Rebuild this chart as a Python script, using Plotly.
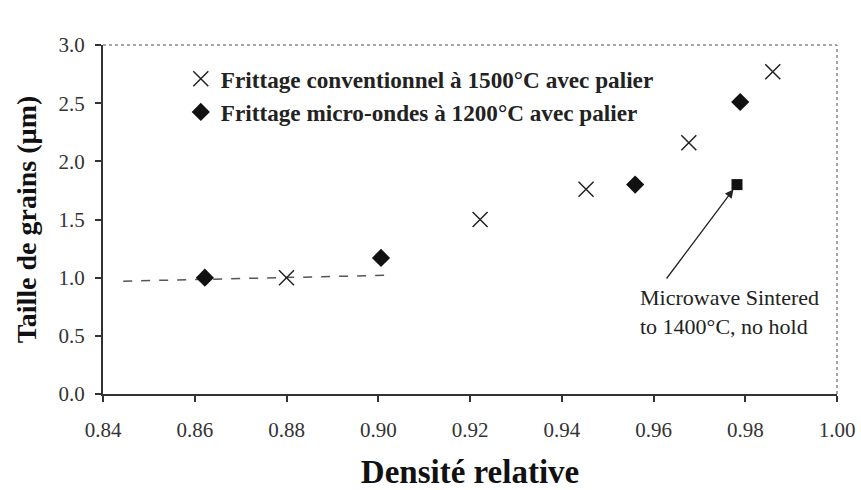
import plotly.graph_objects as go

conv_x = [0.88, 0.9222, 0.9453, 0.9677, 0.986]
conv_y = [1.0, 1.50, 1.76, 2.16, 2.77]
mw_x = [0.8622, 0.9006, 0.956, 0.9789]
mw_y = [1.0, 1.17, 1.80, 2.51]
nohold_x = [0.9782]
nohold_y = [1.80]
trend_x = [0.8444, 0.9015]
trend_y = [0.97, 1.02]

conv_name = "Frittage conventionnel à 1500°C avec palier"
mw_name = "Frittage micro-ondes à 1200°C avec palier"
note_text = "Microwave Sintered<br>to 1400°C, no hold"

serif = "Liberation Serif, Times New Roman, serif"

fig = go.Figure()
fig.add_trace(go.Scatter(x=trend_x, y=trend_y, mode="lines",
                         line=dict(color="#555", width=1.5, dash="dash"),
                         showlegend=False, hoverinfo="skip"))
fig.add_trace(go.Scatter(x=conv_x, y=conv_y, mode="markers", name=conv_name,
                         marker=dict(symbol="x-thin-open", size=15, color="#222",
                                     line=dict(color="#222", width=1.5))))
fig.add_trace(go.Scatter(x=mw_x, y=mw_y, mode="markers", name=mw_name,
                         marker=dict(symbol="diamond", size=14, color="#111")))
fig.add_trace(go.Scatter(x=nohold_x, y=nohold_y, mode="markers", showlegend=False,
                         marker=dict(symbol="square", size=11, color="#111")))

fig.add_annotation(x=nohold_x[0], y=nohold_y[0], ax=0.9626, ay=0.98,
                   axref="x", ayref="y", xref="x", yref="y",
                   text="", showarrow=True, arrowhead=2, arrowsize=1.3,
                   arrowwidth=1.3, arrowcolor="#222", standoff=6)
fig.add_annotation(x=0.9567, y=0.95, xref="x", yref="y", xanchor="left", yanchor="top",
                   text=note_text, showarrow=False, align="left",
                   font=dict(family=serif, size=22, color="#222"))

fig.update_layout(
    width=861, height=490,
    margin=dict(l=103, r=24, t=45, b=96),
    paper_bgcolor="white", plot_bgcolor="white",
    font=dict(family=serif, color="#222"),
    legend=dict(x=0.106, y=0.965, xanchor="left", yanchor="top",
                bgcolor="rgba(0,0,0,0)", font=dict(family=serif, size=23.2, color="#222"),
                itemwidth=30, tracegroupgap=0),
    xaxis=dict(range=[0.84, 1.00], dtick=0.02, tickformat=".2f",
               showgrid=False, zeroline=False, automargin=False,
               showline=True, linecolor="#333", linewidth=2, mirror=False,
               ticks="outside", ticklen=6, tickcolor="#333", tickwidth=1.5,
               ticklabelstandoff=10,
               tickfont=dict(family=serif, size=21, color="#333"),
               title=dict(text="<b>Densité relative</b>", standoff=36,
                          font=dict(family=serif, size=33, color="#111"))),
    yaxis=dict(range=[0, 3.0], dtick=0.5, tickformat=".1f",
               showgrid=False, zeroline=False, automargin=False,
               showline=True, linecolor="#333", linewidth=2,
               ticks="outside", ticklen=6, tickcolor="#333", tickwidth=1.5,
               ticklabelstandoff=6,
               tickfont=dict(family=serif, size=21, color="#333"),
               title=dict(text="<b>Taille de grains (µm)</b>", standoff=14,
                          font=dict(family=serif, size=28, color="#111"))),
)
fig.update_layout(legend_font_weight=700)
# dotted top and right border
fig.add_shape(type="line", xref="paper", yref="paper", x0=0, x1=1, y0=1, y1=1,
              line=dict(color="#888", width=1.5, dash="dot"))
fig.add_shape(type="line", xref="paper", yref="paper", x0=1, x1=1, y0=0, y1=1,
              line=dict(color="#888", width=1.5, dash="dot"))

fig.write_html("out.html", config={"displayModeBar": False},
               post_script="document.body.style.margin='0';")
